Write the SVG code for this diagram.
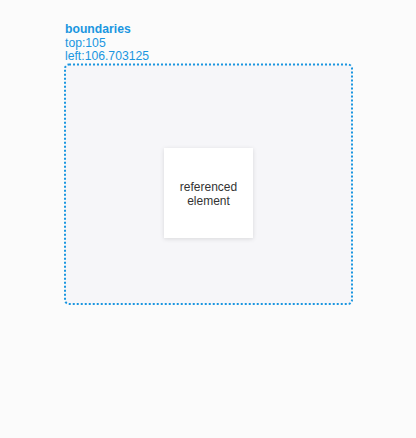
<svg xmlns="http://www.w3.org/2000/svg" width="416" height="438" viewBox="0 0 416 438">
<style>
.lbl{font-family:"Liberation Sans",Arial,sans-serif;font-size:12.2px;fill:#1a96e0}
.b{font-weight:bold}
.t{font-family:"Liberation Sans",Arial,sans-serif;font-size:12px;fill:#333;text-anchor:middle}
</style>
<defs>
<filter id="sh" x="-20%" y="-20%" width="140%" height="140%">
<feDropShadow dx="0" dy="1" stdDeviation="2" flood-color="#000" flood-opacity="0.12"/>
</filter>
</defs>
<rect width="416" height="438" fill="#fbfbfb"/>
<g id="boundaries">
<rect x="65" y="64.5" width="287" height="239.5" rx="4" fill="#f6f6f9" stroke="#1a96e0" stroke-width="2" stroke-dasharray="2 2"/>
<text class="lbl b" x="65" y="33">boundaries</text>
<text class="lbl" x="65" y="47">top:105</text>
<text class="lbl" x="65" y="60">left:106.703125</text>
</g>
<g id="referenced">
<rect x="164" y="148" width="89" height="90" fill="#fff" filter="url(#sh)"/>
<text class="t" x="208.5" y="191">referenced</text>
<text class="t" x="208.5" y="205">element</text>
</g>
<g id="connectors"/>
</svg>
